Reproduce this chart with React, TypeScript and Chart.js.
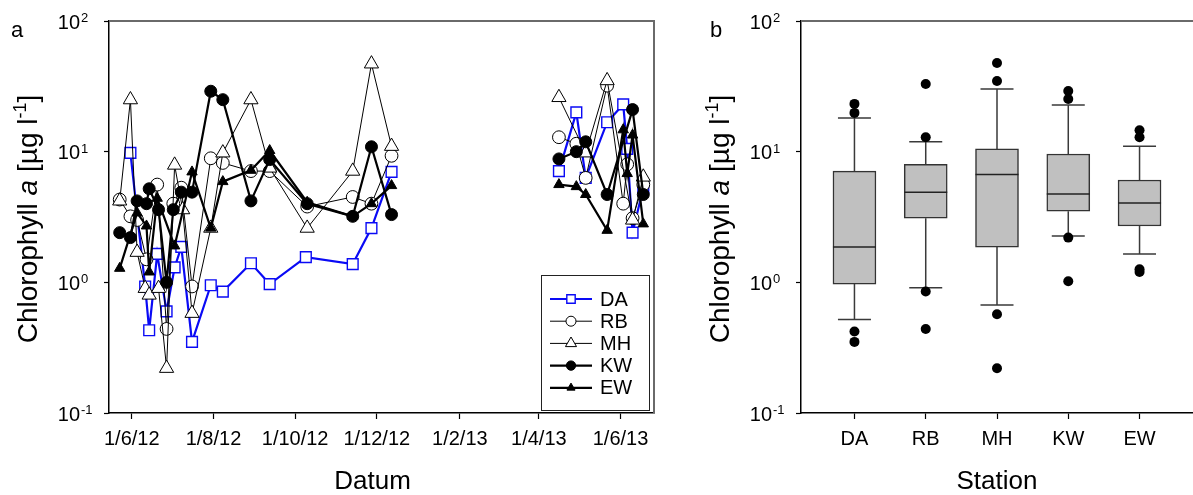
import React, { useEffect, useRef } from "react";
import { Chart, registerables } from "chart.js";

Chart.register(...registerables);

const FONT = '"Liberation Sans", Arial, Helvetica, sans-serif';
const BLUE = "#0a0af5";

// ---- Time series: sampling dates and chlorophyll a (µg/l) per station ----
const DA_DATES = [
  "2012-05-31", "2012-06-11", "2012-06-14", "2012-06-20", "2012-06-27", "2012-07-03",
  "2012-07-08", "2012-07-16", "2012-07-30", "2012-08-08", "2012-08-29", "2012-09-12",
  "2012-10-09", "2012-11-13", "2012-11-27", "2012-12-12",
  "2013-04-16", "2013-04-29", "2013-05-06", "2013-05-22", "2013-06-03", "2013-06-06",
  "2013-06-10", "2013-06-18",
];
const DA_VALUES = [
  9.8, 0.93, 0.43, 1.65, 0.6, 1.3, 1.87, 0.35, 0.95, 0.85, 1.4, 0.97, 1.56, 1.38, 2.6, 7.0,
  7.1, 20, 6.3, 16.8, 23, 10.5, 2.4, 5.3,
];

const RB_DATES = [
  "2012-05-23", "2012-05-31", "2012-06-05", "2012-06-12", "2012-06-20", "2012-06-27",
  "2012-07-02", "2012-07-08", "2012-07-16", "2012-07-30", "2012-08-08", "2012-08-29",
  "2012-09-12", "2012-10-10", "2012-11-13", "2012-11-27", "2012-12-12",
  "2013-04-16", "2013-04-29", "2013-05-06", "2013-05-22", "2013-06-03", "2013-06-06",
  "2013-06-10", "2013-06-18",
];
const RB_VALUES = [
  4.3, 3.2, 3.0, 1.5, 5.6, 0.44, 4.0, 5.3, 0.93, 8.9, 8.2, 7.1, 7.1, 3.8, 4.5, 4.0, 9.3,
  12.9, 11.5, 6.3, 32, 4.0, 8.0, 3.1, 5.6,
];

const MH_DATES = [
  "2012-05-23", "2012-05-31", "2012-06-05", "2012-06-11", "2012-06-14", "2012-06-21",
  "2012-06-27", "2012-07-03", "2012-07-09", "2012-07-16", "2012-07-30", "2012-08-08",
  "2012-08-29", "2012-09-12", "2012-10-10", "2012-11-13", "2012-11-27", "2012-12-12",
  "2013-04-16", "2013-05-06", "2013-05-22", "2013-06-10", "2013-06-18",
];
const MH_VALUES = [
  4.2, 25, 1.7, 0.9, 0.8, 0.9, 0.22, 7.9, 3.6, 0.58, 2.6, 9.8, 25, 7.5, 2.6, 7.1, 47, 11,
  26, 9.8, 35, 3.0, 6.4,
];

const KW_DATES = [
  "2012-05-23", "2012-05-31", "2012-06-05", "2012-06-12", "2012-06-14", "2012-06-21",
  "2012-06-27", "2012-07-02", "2012-07-08", "2012-07-16", "2012-07-30", "2012-08-08",
  "2012-08-29", "2012-09-12", "2012-10-10", "2012-11-13", "2012-11-27", "2012-12-12",
  "2013-04-16", "2013-04-29", "2013-05-06", "2013-05-22", "2013-06-10", "2013-06-18",
];
const KW_VALUES = [
  2.4, 2.2, 4.2, 4.0, 5.2, 3.6, 1.0, 3.6, 4.9, 4.9, 29, 25, 4.2, 8.7, 4.0, 3.2, 10.9, 3.3,
  8.8, 10, 11.9, 4.7, 21, 4.7,
];

const EW_DATES = [
  "2012-05-23", "2012-06-05", "2012-06-12", "2012-06-14", "2012-06-20", "2012-07-03",
  "2012-07-16", "2012-07-30", "2012-08-08", "2012-08-29", "2012-09-12", "2012-10-10",
  "2012-11-13", "2012-11-27", "2012-12-12",
  "2013-04-16", "2013-04-29", "2013-05-06", "2013-05-22", "2013-06-03", "2013-06-06",
  "2013-06-10", "2013-06-18",
];
const EW_VALUES = [
  1.28, 3.4, 2.7, 1.2, 4.4, 1.9, 7.0, 2.6, 5.9, 7.2, 10.2, 4.1, 3.2, 4.0, 5.5,
  5.6, 5.4, 4.7, 2.5, 14.7, 6.8, 13.4, 2.8,
];

const TICK_DATES = [
  "2012-06-01", "2012-08-01", "2012-10-01", "2012-12-01", "2013-02-01", "2013-04-01", "2013-06-01",
];
const TICK_LABELS = ["1/6/12", "1/8/12", "1/10/12", "1/12/12", "1/2/13", "1/4/13", "1/6/13"];
const X_START = "2012-05-15";
const X_END = "2013-06-26";
const LOG_TICKS = [0.1, 1, 10, 100];

// ---- Box plot statistics per station ----
const STATIONS = ["DA", "RB", "MH", "KW", "EW"];
const BOX_LOW = [0.52, 0.91, 0.67, 2.26, 1.65];
const BOX_Q1 = [0.97, 3.1, 1.86, 3.5, 2.7];
const BOX_MEDIAN = [1.86, 4.9, 6.7, 4.74, 4.05];
const BOX_Q3 = [7.1, 8.0, 10.5, 9.6, 6.07];
const BOX_HIGH = [18.1, 11.9, 30.2, 22.8, 11.0];
const OUTLIERS_DA = [23.2, 19.8, 0.42, 0.35];
const OUTLIERS_RB = [33, 12.9, 0.85, 0.44];
const OUTLIERS_MH = [47.7, 34.7, 0.57, 0.22];
const OUTLIERS_KW = [29.1, 25.3, 2.2, 1.02];
const OUTLIERS_EW = [14.6, 12.9, 1.26, 1.2];

const toDay = (iso: string): number => {
  const [y, m, d] = iso.split("-").map(Number);
  return Date.UTC(y, m - 1, d) / 86400000;
};

function toPoints(dates: string[], values: number[]) {
  const pts: { x: number; y: number | null }[] = [];
  dates.forEach((iso, i) => {
    const x = toDay(iso);
    const prev = pts[pts.length - 1];
    // break the line over the winter pause in sampling
    if (prev && x - prev.x > 60) pts.push({ x: (x + prev.x) / 2, y: null });
    pts.push({ x, y: values[i] });
  });
  return pts;
}

type SeriesStyle = {
  label: string;
  dates: string[];
  values: number[];
  color: string;
  lineWidth: number;
  pointStyle: string;
  radius: number;
  fill: string;
  pointBorder: number;
  order: number;
};

const SERIES: SeriesStyle[] = [
  { label: "DA", dates: DA_DATES, values: DA_VALUES, color: BLUE, lineWidth: 2.2, pointStyle: "rect", radius: 7.6, fill: "#ffffff", pointBorder: 1.4, order: 5 },
  { label: "RB", dates: RB_DATES, values: RB_VALUES, color: "#000000", lineWidth: 1, pointStyle: "circle", radius: 6.4, fill: "#ffffff", pointBorder: 1, order: 4 },
  { label: "MH", dates: MH_DATES, values: MH_VALUES, color: "#000000", lineWidth: 1, pointStyle: "triangle", radius: 8.2, fill: "#ffffff", pointBorder: 1, order: 3 },
  { label: "KW", dates: KW_DATES, values: KW_VALUES, color: "#000000", lineWidth: 2.2, pointStyle: "circle", radius: 6, fill: "#000000", pointBorder: 1, order: 2 },
  { label: "EW", dates: EW_DATES, values: EW_VALUES, color: "#000000", lineWidth: 2.2, pointStyle: "triangle", radius: 6, fill: "#000000", pointBorder: 1, order: 1 },
];

function drawMarker(
  ctx: CanvasRenderingContext2D, style: string, x: number, y: number, r: number,
  fill: string, stroke: string, lw: number
) {
  ctx.beginPath();
  if (style === "rect") {
    const s = r * Math.SQRT1_2;
    ctx.rect(x - s, y - s, 2 * s, 2 * s);
  } else if (style === "triangle") {
    for (let k = 0; k < 3; k++) {
      const a = (k * 2 * Math.PI) / 3;
      const px = x + Math.sin(a) * r;
      const py = y - Math.cos(a) * r;
      if (k === 0) ctx.moveTo(px, py);
      else ctx.lineTo(px, py);
    }
    ctx.closePath();
  } else {
    ctx.arc(x, y, r, 0, Math.PI * 2);
  }
  ctx.fillStyle = fill;
  ctx.fill();
  ctx.lineWidth = lw;
  ctx.strokeStyle = stroke;
  ctx.stroke();
}

function drawFrame(chart: any, withRight: boolean) {
  const { ctx, chartArea: a } = chart;
  ctx.save();
  ctx.strokeStyle = "#6a6a6a";
  ctx.lineWidth = 2;
  ctx.beginPath();
  ctx.moveTo(a.left, a.top);
  ctx.lineTo(a.right, a.top);
  if (withRight) ctx.lineTo(a.right, a.bottom);
  ctx.stroke();
  ctx.restore();
}

function drawLogLabels(chart: any) {
  const { ctx, chartArea: a } = chart;
  const y = chart.scales.y;
  ctx.save();
  ctx.fillStyle = "#000";
  LOG_TICKS.forEach((v) => {
    const py = y.getPixelForValue(v);
    const xr = a.left - 29;
    ctx.font = `20px ${FONT}`;
    ctx.textAlign = "right";
    ctx.textBaseline = "middle";
    ctx.fillText("10", xr, py + 2);
    ctx.font = `13px ${FONT}`;
    ctx.textAlign = "left";
    ctx.textBaseline = "alphabetic";
    ctx.fillText(String(Math.round(Math.log10(v))), xr + 1, py + 1);
  });
  ctx.restore();
}

function drawYTitle(chart: any) {
  const { ctx, chartArea: a } = chart;
  const parts = [
    { t: "Chlorophyll ", f: `28px ${FONT}`, dy: 0 },
    { t: "a", f: `italic 28px ${FONT}`, dy: 0 },
    { t: " [µg l", f: `28px ${FONT}`, dy: 0 },
    { t: "-1", f: `18px ${FONT}`, dy: -11 },
    { t: "]", f: `28px ${FONT}`, dy: 0 },
  ];
  ctx.save();
  ctx.translate(a.left - 72, (a.top + a.bottom) / 2 + 2);
  ctx.rotate(-Math.PI / 2);
  ctx.fillStyle = "#000";
  ctx.textBaseline = "alphabetic";
  ctx.textAlign = "left";
  let total = 0;
  parts.forEach((p) => {
    ctx.font = p.f;
    total += ctx.measureText(p.t).width;
  });
  let x = -total / 2;
  parts.forEach((p) => {
    ctx.font = p.f;
    ctx.fillText(p.t, x, p.dy);
    x += ctx.measureText(p.t).width;
  });
  ctx.restore();
}

function drawXTitle(chart: any, text: string, shift: number) {
  const { ctx, chartArea: a } = chart;
  ctx.save();
  ctx.fillStyle = "#000";
  ctx.font = `26px ${FONT}`;
  ctx.textAlign = "center";
  ctx.textBaseline = "middle";
  ctx.fillText(text, (a.left + a.right) / 2 + shift, 482);
  ctx.restore();
}

function drawPanelLetter(chart: any, letter: string, x: number) {
  const { ctx } = chart;
  ctx.save();
  ctx.fillStyle = "#000";
  ctx.font = `22px ${FONT}`;
  ctx.textAlign = "left";
  ctx.textBaseline = "alphabetic";
  ctx.fillText(letter, x, 37);
  ctx.restore();
}

function drawSeriesLegend(chart: any) {
  const { ctx, chartArea: a } = chart;
  const right = a.right - 5;
  const bottom = a.bottom - 3;
  const w = 108;
  const h = 135;
  const left = right - w;
  const top = bottom - h;
  ctx.save();
  ctx.fillStyle = "#fff";
  ctx.fillRect(left, top, w, h);
  ctx.strokeStyle = "#222";
  ctx.lineWidth = 1;
  ctx.strokeRect(left + 0.5, top + 0.5, w, h);
  SERIES.forEach((s, i) => {
    const cy = top + 24 + i * 22.2;
    const x0 = left + 9;
    const x1 = left + 51;
    ctx.strokeStyle = s.color;
    ctx.lineWidth = s.lineWidth;
    ctx.beginPath();
    ctx.moveTo(x0, cy);
    ctx.lineTo(x1, cy);
    ctx.stroke();
    drawMarker(ctx, s.pointStyle, (x0 + x1) / 2, cy, s.radius * 0.78, s.fill, s.color, s.pointBorder);
    ctx.fillStyle = "#000";
    ctx.font = `20px ${FONT}`;
    ctx.textAlign = "left";
    ctx.textBaseline = "middle";
    ctx.fillText(s.label, left + 59, cy + 1);
  });
  ctx.restore();
}

function TimeSeriesChart() {
  const ref = useRef<HTMLCanvasElement | null>(null);
  useEffect(() => {
    if (!ref.current) return;
    const decorations = {
      id: "panelA",
      afterDraw(chart: any) {
        drawFrame(chart, true);
        drawLogLabels(chart);
        drawYTitle(chart);
        drawXTitle(chart, "Datum", -9);
        drawPanelLetter(chart, "a", 11);
        drawSeriesLegend(chart);
      },
    };
    const chart = new Chart(ref.current, {
      type: "line",
      data: {
        datasets: SERIES.map((s) => ({
          label: s.label,
          data: toPoints(s.dates, s.values),
          borderColor: s.color,
          borderWidth: s.lineWidth,
          pointStyle: s.pointStyle as any,
          pointRadius: s.radius,
          pointBackgroundColor: s.fill,
          pointBorderColor: s.color,
          pointBorderWidth: s.pointBorder,
          spanGaps: false,
          tension: 0,
          order: s.order,
        })),
      },
      options: {
        responsive: false,
        animation: false,
        events: [],
        layout: { padding: { left: 0, right: 26, top: 21, bottom: 0 }, autoPadding: false },
        plugins: { legend: { display: false }, tooltip: { enabled: false } },
        scales: {
          x: {
            type: "linear",
            min: toDay(X_START),
            max: toDay(X_END),
            afterBuildTicks: (s: any) => {
              s.ticks = TICK_DATES.map((d) => ({ value: toDay(d) }));
            },
            afterFit: (s: any) => {
              s.height = 82;
            },
            ticks: {
              callback: (_v: any, i: number) => TICK_LABELS[i],
              font: { family: FONT, size: 20 },
              color: "#000",
              padding: 8,
              maxRotation: 0,
              autoSkip: false,
            },
            grid: { drawOnChartArea: false, drawTicks: true, tickLength: 6, color: "#000", tickWidth: 1.2 },
            border: { color: "#000", width: 1.5 },
          },
          y: {
            type: "logarithmic",
            min: 0.1,
            max: 100,
            afterBuildTicks: (s: any) => {
              s.ticks = LOG_TICKS.map((v) => ({ value: v }));
            },
            afterFit: (s: any) => {
              s.width = 109;
            },
            ticks: { display: false },
            grid: { drawOnChartArea: false, drawTicks: true, tickLength: 5, color: "#000", tickWidth: 1.2 },
            border: { color: "#000", width: 1.5 },
          },
        },
      },
      plugins: [decorations],
    } as any);
    return () => chart.destroy();
  }, []);
  return <canvas ref={ref} width={680} height={495} style={{ display: "block" }} />;
}

function BoxPlotChart() {
  const ref = useRef<HTMLCanvasElement | null>(null);
  useEffect(() => {
    if (!ref.current) return;
    const outliers = [OUTLIERS_DA, OUTLIERS_RB, OUTLIERS_MH, OUTLIERS_KW, OUTLIERS_EW];
    const boxParts = {
      id: "boxParts",
      beforeDatasetsDraw(chart: any) {
        const { ctx } = chart;
        const { x, y } = chart.scales;
        ctx.save();
        ctx.strokeStyle = "#3a3a3a";
        ctx.lineWidth = 1.5;
        STATIONS.forEach((_s, i) => {
          const px = x.getPixelForValue(i);
          const ends: [number, number][] = [
            [BOX_Q3[i], BOX_HIGH[i]],
            [BOX_Q1[i], BOX_LOW[i]],
          ];
          ends.forEach(([from, to]) => {
            const y0 = y.getPixelForValue(from);
            const y1 = y.getPixelForValue(to);
            ctx.beginPath();
            ctx.moveTo(px, y0);
            ctx.lineTo(px, y1);
            ctx.moveTo(px - 16.5, y1);
            ctx.lineTo(px + 16.5, y1);
            ctx.stroke();
          });
        });
        ctx.restore();
      },
      afterDatasetsDraw(chart: any) {
        const { ctx } = chart;
        const { x, y } = chart.scales;
        ctx.save();
        ctx.strokeStyle = "#222";
        ctx.lineWidth = 1.5;
        STATIONS.forEach((_s, i) => {
          const px = x.getPixelForValue(i);
          const py = y.getPixelForValue(BOX_MEDIAN[i]);
          ctx.beginPath();
          ctx.moveTo(px - 21.5, py);
          ctx.lineTo(px + 21.5, py);
          ctx.stroke();
        });
        ctx.restore();
      },
      afterDraw(chart: any) {
        drawFrame(chart, false);
        drawLogLabels(chart);
        drawYTitle(chart);
        drawXTitle(chart, "Station", 0);
        drawPanelLetter(chart, "b", 30);
      },
    };
    const chart = new Chart(ref.current, {
      type: "bar",
      data: {
        datasets: [
          {
            type: "bar",
            label: "box",
            data: STATIONS.map((_s, i) => ({ x: i, y: [BOX_Q1[i], BOX_Q3[i]] })),
            backgroundColor: "#c0c0c0",
            borderColor: "#333",
            borderWidth: 1.5,
            borderSkipped: false,
            barThickness: 43,
            order: 2,
          },
          {
            type: "scatter",
            label: "outliers",
            data: outliers.flatMap((list, i) => list.map((v) => ({ x: i, y: v }))),
            pointRadius: 5,
            pointBackgroundColor: "#000",
            pointBorderColor: "#000",
            pointBorderWidth: 0,
            order: 1,
          },
        ],
      },
      options: {
        responsive: false,
        animation: false,
        events: [],
        layout: { padding: { left: 0, right: 0, top: 21, bottom: 0 }, autoPadding: false },
        plugins: { legend: { display: false }, tooltip: { enabled: false } },
        scales: {
          x: {
            type: "linear",
            min: -0.75,
            max: 4.75,
            offset: false,
            afterBuildTicks: (s: any) => {
              s.ticks = STATIONS.map((_n, i) => ({ value: i }));
            },
            afterFit: (s: any) => {
              s.height = 82;
            },
            ticks: {
              callback: (_v: any, i: number) => STATIONS[i],
              font: { family: FONT, size: 20 },
              color: "#000",
              padding: 8,
              maxRotation: 0,
              autoSkip: false,
            },
            grid: { offset: false, drawOnChartArea: false, drawTicks: true, tickLength: 6, color: "#000", tickWidth: 1.2 },
            border: { color: "#000", width: 1.5 },
          },
          y: {
            type: "logarithmic",
            min: 0.1,
            max: 100,
            afterBuildTicks: (s: any) => {
              s.ticks = LOG_TICKS.map((v) => ({ value: v }));
            },
            afterFit: (s: any) => {
              s.width = 121;
            },
            ticks: { display: false },
            grid: { drawOnChartArea: false, drawTicks: true, tickLength: 5, color: "#000", tickWidth: 1.2 },
            border: { color: "#000", width: 1.5 },
          },
        },
      },
      plugins: [boxParts],
    } as any);
    return () => chart.destroy();
  }, []);
  return <canvas ref={ref} width={513} height={495} style={{ display: "block" }} />;
}

export default function App() {
  return (
    <div
      style={{
        position: "absolute",
        left: 0,
        top: 0,
        width: 1193,
        height: 495,
        background: "#fff",
        display: "flex",
        flexDirection: "row",
      }}
    >
      <TimeSeriesChart />
      <BoxPlotChart />
    </div>
  );
}
